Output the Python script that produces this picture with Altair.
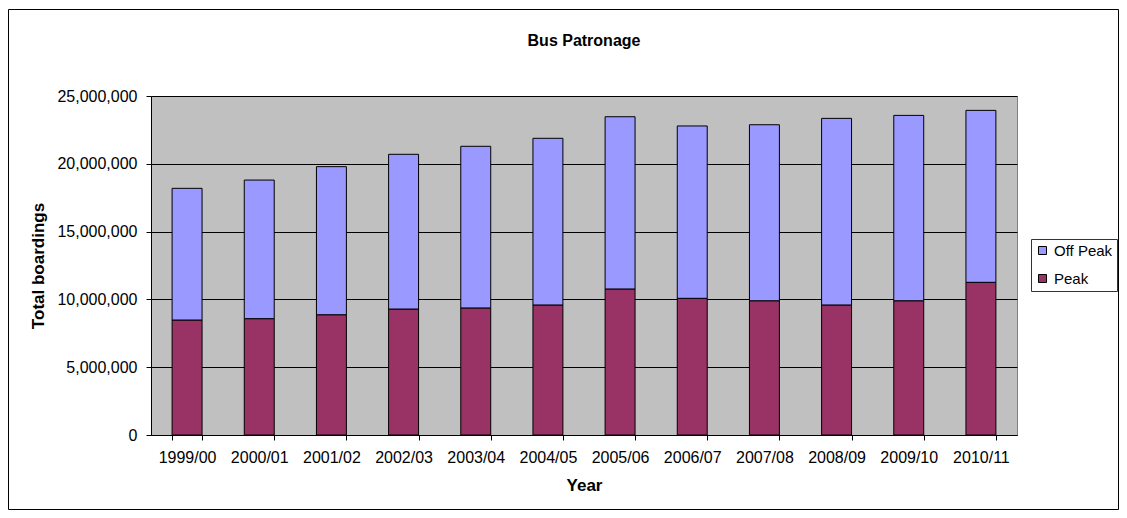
import altair as alt
import pandas as pd

years = ["1999/00", "2000/01", "2001/02", "2002/03", "2003/04", "2004/05",
         "2005/06", "2006/07", "2007/08", "2008/09", "2009/10", "2010/11"]
peak = [8480000, 8580000, 8870000, 9290000, 9370000, 9590000,
        10770000, 10080000, 9900000, 9590000, 9900000, 11260000]
off_peak = [9710000, 10220000, 10920000, 11410000, 11920000, 12290000,
            12700000, 12710000, 12980000, 13760000, 13670000, 12680000]
series = ["Off Peak", "Peak"]
colors = ["#9999FF", "#993366"]
chart_title = "Bus Patronage"

rows = []
for y, p, o in zip(years, peak, off_peak):
    rows.append({"Year": y, "Type": "Peak", "Value": p, "ord": 0})
    rows.append({"Year": y, "Type": "Off Peak", "Value": o, "ord": 1})
df = pd.DataFrame(rows)

FONT = "Liberation Sans"
W, H = 866, 339

bars = alt.Chart(df).mark_bar(stroke="black", strokeWidth=1).encode(
    x=alt.X("Year:N", sort=years,
            scale=alt.Scale(paddingInner=0.585, paddingOuter=0.2925),
            axis=alt.Axis(title="Year", labelAngle=0, tickBand="extent",
                          tickSize=5, labelPadding=9, titlePadding=12,
                          domainColor="black", tickColor="black")),
    y=alt.Y("Value:Q", stack="zero",
            scale=alt.Scale(domain=[0, 25000000]),
            axis=alt.Axis(title="Total boardings", format=",.0f",
                          values=[0, 5000000, 10000000, 15000000, 20000000, 25000000],
                          tickSize=5, labelPadding=9, titlePadding=9,
                          grid=True, gridColor="black", gridWidth=1,
                          domainColor="black", tickColor="black")),
    color=alt.Color("Type:N", scale=alt.Scale(domain=series, range=colors),
                    legend=alt.Legend(title=None, orient="none", legendX=880, legendY=143,
                                      strokeColor="#333333", padding=4, symbolType="square",
                                      symbolSize=64, symbolStrokeColor="black",
                                      symbolStrokeWidth=1, labelFontSize=15,
                                      labelFont=FONT, rowPadding=12, labelColor="black",
                                      labelOffset=4, symbolOpacity=1, labelLimit=200)),
    order=alt.Order("ord:Q"),
)

frame = alt.Chart(pd.DataFrame({"a": [0]})).mark_rect(
    fill=None, stroke="black", strokeWidth=1, clip=False
).encode(
    x=alt.value(-142.5), x2=alt.value(W + 101.5),
    y=alt.value(-86.5), y2=alt.value(H + 74.5),
)

title = alt.Chart(pd.DataFrame({"t": [chart_title]})).mark_text(
    font=FONT, fontSize=16, fontWeight="bold", color="black",
    align="center", baseline="middle", clip=False
).encode(
    text="t:N", x=alt.value(W / 2), y=alt.value(-55),
)

chart = alt.layer(bars, frame, title).properties(
    width=W, height=H,
    autosize=alt.AutoSizeParams(type="none"),
    padding={"left": 143, "top": 88, "right": 102, "bottom": 75},
).configure_view(
    fill="#C0C0C0", stroke="#808080", strokeWidth=1
).configure_axis(
    labelFont=FONT, titleFont=FONT, labelFontSize=16, titleFontSize=17,
    labelColor="black", titleColor="black", titleFontWeight="bold"
)

chart.save("out.html", embed_options={"renderer": "svg", "actions": False})
